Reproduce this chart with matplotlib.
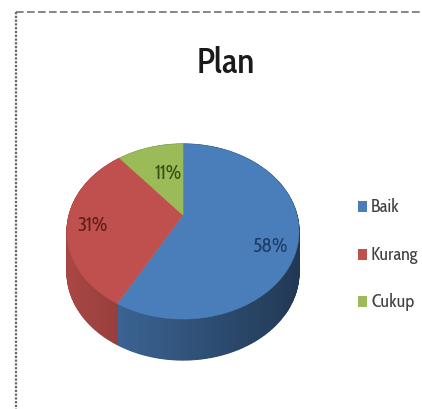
import numpy as np
import matplotlib
matplotlib.use("Agg")
import matplotlib.pyplot as plt
from matplotlib.patches import Rectangle

titulo = "Plan"
categorias = ["Baik", "Kurang", "Cukup"]
valores = [58, 31, 11]
colores = ["#4a7ebb", "#c0504d", "#9bbb59"]
colores_texto = ["#1f3d66", "#5e1f1d", "#3a4f14"]

plt.rcParams["font.family"] = ["Cabin Condensed", "Barlow Condensed", "Liberation Sans", "DejaVu Sans"]

# tilted disc seen in perspective, everything in pixel units
cx, cy = 183, 216
A, B, k = 84.4, 113.9, 0.1887
prof = 41


def proyecta(ang, r=1.0):
    # ang in degrees, clockwise from the top of the disc
    t = np.radians(ang)
    u = r * np.sin(t)
    v = r * np.cos(t)
    w = 1 + k * v
    return cx + B * u / w, cy - A * v / w


def oscurece(color, f):
    rgb = np.array(matplotlib.colors.to_rgb(color))
    return tuple(rgb * f)


fig = plt.figure(figsize=(4.22, 4.10), dpi=100)
ax = fig.add_axes([0, 0, 1, 1])
ax.set_xlim(0, 422)
ax.set_ylim(410, 0)
ax.axis("off")

# dashed frame, only top and left show
ax.plot([16, 422], [13, 13], color="#666666", lw=1.1, ls=(0, (5, 2.2)))
ax.plot([16, 16], [13, 410], color="#666666", lw=1.6, ls=(0, (1, 0.7)))

ax.text(226, 64, titulo, ha="center", va="center", fontsize=25.5, color="#1a1a1a", fontweight="medium")

fracs = np.array(valores) / sum(valores) * 360
inicio = 0.0
rangos = []
for f in fracs:
    rangos.append((inicio, inicio + f))
    inicio += f

# side wall first, the top face hides its back half
for (a0, a1), col in zip(rangos, colores):
    angs = np.linspace(a0, a1, int(a1 - a0) + 2)
    xs, ys = proyecta(angs)
    for i in range(len(angs) - 1):
        xm = (xs[i] + xs[i + 1]) / 2
        f = 0.88 - 0.43 * (xm - 67) / 231
        c = oscurece(col, f)
        ax.fill([xs[i], xs[i + 1], xs[i + 1], xs[i]],
                [ys[i], ys[i + 1], ys[i + 1] + prof, ys[i] + prof],
                color=c, ec=c, lw=0.8)

# top face
for (a0, a1), col in zip(rangos, colores):
    angs = np.linspace(a0, a1, 120)
    xs, ys = proyecta(angs)
    ax.fill(np.r_[cx, xs], np.r_[cy, ys], color=col, lw=0.4)

# percent labels
pos_etiquetas = [(270, 247), (93, 226), (168, 174)]
for v, p, c in zip(valores, pos_etiquetas, colores_texto):
    ax.text(p[0], p[1], f"{v}%", ha="center", va="center", fontsize=14.5, color=c)

# legend
pos_leyenda = [207, 255, 302]
for nom, col, y in zip(categorias, colores, pos_leyenda):
    ax.add_patch(Rectangle((358, y - 5.5), 9, 11, color=col, lw=0))
    ax.text(371, y, nom, ha="left", va="center", fontsize=13, color="#404040")

fig.savefig("out.png", dpi=100)
